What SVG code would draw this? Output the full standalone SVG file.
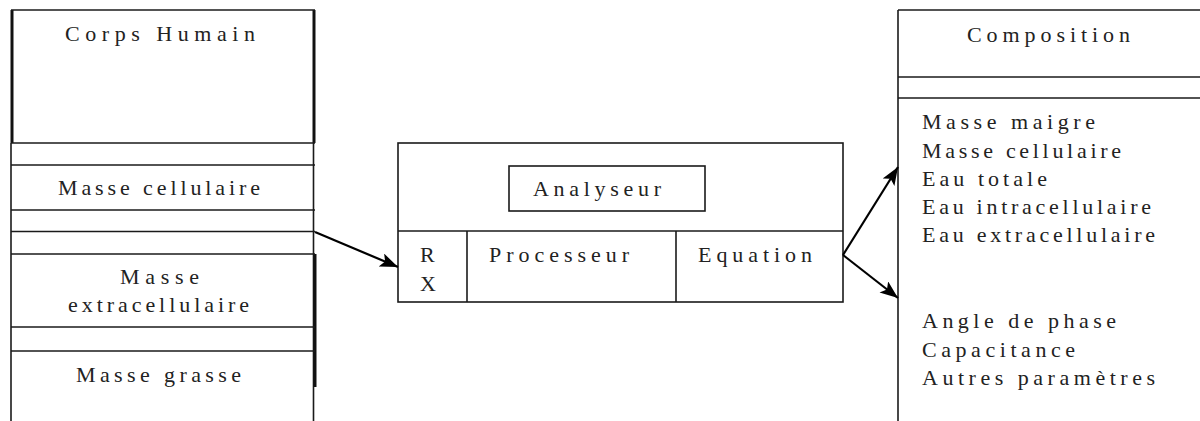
<svg xmlns="http://www.w3.org/2000/svg" width="1200" height="421" viewBox="0 0 1200 421">
<defs>
<style>
.ln{stroke:#1a1a1a;stroke-width:1.6;fill:none}
.tk{stroke:#111;stroke-width:3;fill:none}
.t{font-family:"Liberation Serif","DejaVu Serif",serif;font-size:22px;fill:#222}
.ar{stroke:#000;stroke-width:2.2;fill:none}
</style>
<marker id="ah" markerUnits="userSpaceOnUse" markerWidth="20" markerHeight="16" refX="18" refY="7" orient="auto">
<path d="M0,0 L18,7 L0,14 L4,7 Z" fill="#000"/>
</marker>
</defs>
<rect width="1200" height="421" fill="#fff"/>

<g id="corps-humain">
<line class="tk" x1="12" y1="10" x2="12" y2="143"/>
<line class="tk" x1="314" y1="10" x2="314" y2="143"/>
<line class="ln" x1="11" y1="10" x2="315" y2="10"/>
<line class="ln" x1="11" y1="143" x2="11" y2="421"/>
<line class="ln" x1="313.5" y1="143" x2="313.5" y2="421"/>
<line class="tk" x1="315" y1="254" x2="315" y2="387"/>
<line class="ln" x1="11" y1="143" x2="315" y2="143"/>
<line class="ln" x1="11" y1="165" x2="315" y2="165"/>
<line class="ln" x1="11" y1="210" x2="315" y2="210"/>
<line class="ln" x1="11" y1="231.5" x2="315" y2="231.5"/>
<line class="ln" x1="11" y1="254" x2="315" y2="254"/>
<line class="ln" x1="11" y1="327" x2="315" y2="327"/>
<line class="ln" x1="11" y1="351" x2="315" y2="351"/>
<text class="t" x="65" y="41" textLength="190" lengthAdjust="spacing">Corps Humain</text>
<text class="t" x="58" y="195" textLength="202" lengthAdjust="spacing">Masse cellulaire</text>
<text class="t" x="120" y="284" textLength="79" lengthAdjust="spacing">Masse</text>
<text class="t" x="68" y="312" textLength="181" lengthAdjust="spacing">extracellulaire</text>
<text class="t" x="76" y="382" textLength="165" lengthAdjust="spacing">Masse grasse</text>
</g>

<g id="analyseur">
<rect class="ln" x="398" y="143" width="445" height="159"/>
<line class="ln" x1="398" y1="231" x2="843" y2="231"/>
<line class="ln" x1="467" y1="231" x2="467" y2="302"/>
<line class="ln" x1="676" y1="231" x2="676" y2="302"/>
<rect class="ln" x="509" y="166" width="196" height="45"/>
<text class="t" x="533" y="196" textLength="128" lengthAdjust="spacing">Analyseur</text>
<text class="t" x="420" y="262">R</text>
<text class="t" x="420" y="291">X</text>
<text class="t" x="489" y="262" textLength="140" lengthAdjust="spacing">Processeur</text>
<text class="t" x="698" y="262" textLength="114" lengthAdjust="spacing">Equation</text>
</g>

<g id="composition">
<line class="ln" x1="898" y1="10" x2="1200" y2="10"/>
<line class="ln" x1="898" y1="10" x2="898" y2="421"/>
<line class="ln" x1="898" y1="77" x2="1200" y2="77"/>
<line class="ln" x1="898" y1="98" x2="1200" y2="98"/>
<text class="t" x="967" y="42" textLength="163" lengthAdjust="spacing">Composition</text>
<text class="t" x="922" y="129" textLength="173" lengthAdjust="spacing">Masse maigre</text>
<text class="t" x="922" y="158" textLength="199" lengthAdjust="spacing">Masse cellulaire</text>
<text class="t" x="922" y="186" textLength="125" lengthAdjust="spacing">Eau totale</text>
<text class="t" x="922" y="214" textLength="229" lengthAdjust="spacing">Eau intracellulaire</text>
<text class="t" x="922" y="242" textLength="233" lengthAdjust="spacing">Eau extracellulaire</text>
<text class="t" x="922" y="328" textLength="194" lengthAdjust="spacing">Angle de phase</text>
<text class="t" x="922" y="357" textLength="153" lengthAdjust="spacing">Capacitance</text>
<text class="t" x="922" y="385" textLength="233" lengthAdjust="spacing">Autres paramètres</text>
</g>

<g id="connectors">
<line class="ar" x1="315" y1="232" x2="398" y2="267" marker-end="url(#ah)"/>
<line class="ar" x1="843" y1="255" x2="898" y2="167" marker-end="url(#ah)"/>
<line class="ar" x1="843" y1="255" x2="898" y2="298" marker-end="url(#ah)"/>
</g>
</svg>
